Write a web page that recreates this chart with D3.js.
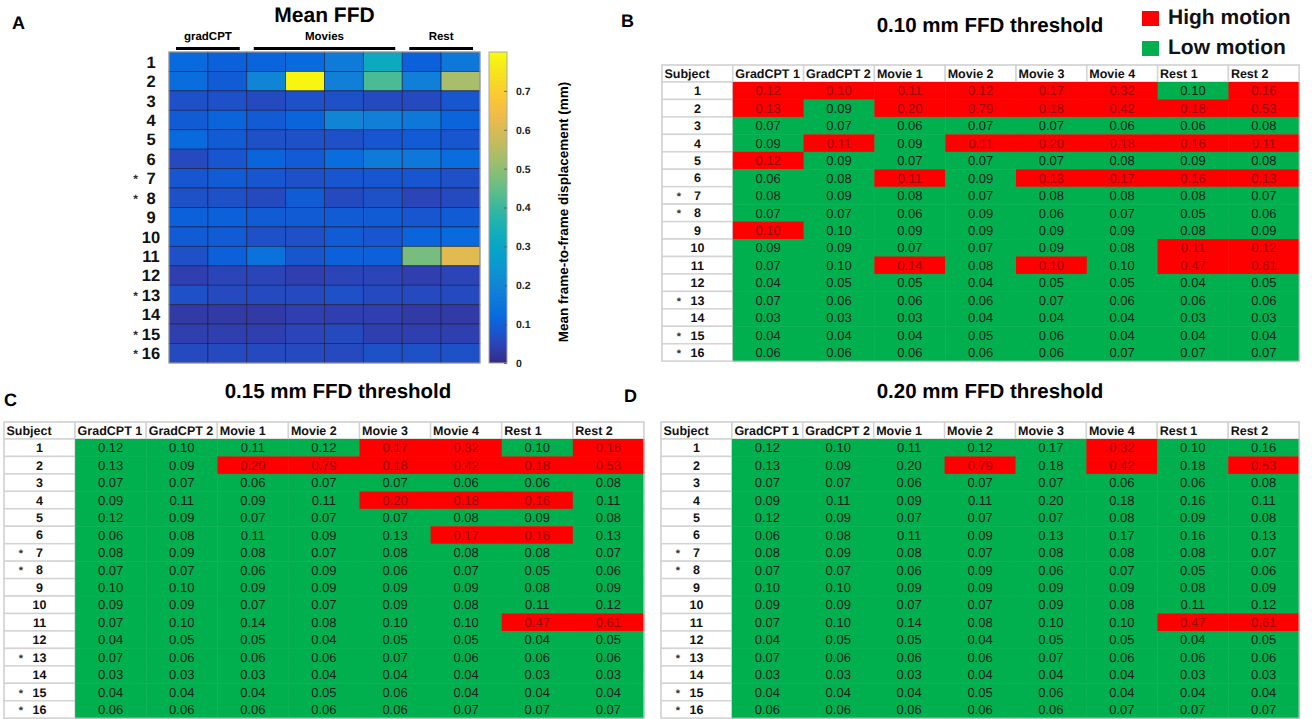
<!DOCTYPE html>
<html>
<head>
<meta charset="utf-8">
<script src="https://cdnjs.cloudflare.com/ajax/libs/d3/7.8.5/d3.min.js"></script>
<style>
  html, body { margin: 0; padding: 0; background: #fff; }
  svg { display: block; font-family: "Liberation Sans", Arial, Helvetica, sans-serif; }
  text { text-rendering: geometricPrecision; }
</style>
</head>
<body>
<svg id="chart" width="1312" height="719"></svg>
<script>
/**
 * @fileoverview Mean FFD heatmap and three motion threshold tables.
 */

var subjects = ['1', '2', '3', '4', '5', '6', '7', '8', '9', '10', '11', '12',
  '13', '14', '15', '16'];
var starredSubjects = ['7', '8', '13', '15', '16'];
var runs = ['GradCPT 1', 'GradCPT 2', 'Movie 1', 'Movie 2', 'Movie 3',
  'Movie 4', 'Rest 1', 'Rest 2'];
var groupNames = ['gradCPT', 'Movies', 'Rest'];
var groupFirstRun = [0, 2, 6];
var groupLastRun = [1, 5, 7];

// Mean FFD (mm), one row per subject, one column per run.
var meanFFD = [
  [0.12, 0.10, 0.11, 0.12, 0.17, 0.32, 0.10, 0.16],
  [0.13, 0.09, 0.20, 0.79, 0.18, 0.42, 0.18, 0.53],
  [0.07, 0.07, 0.06, 0.07, 0.07, 0.06, 0.06, 0.08],
  [0.09, 0.11, 0.09, 0.11, 0.20, 0.18, 0.16, 0.11],
  [0.12, 0.09, 0.07, 0.07, 0.07, 0.08, 0.09, 0.08],
  [0.06, 0.08, 0.11, 0.09, 0.13, 0.17, 0.16, 0.13],
  [0.08, 0.09, 0.08, 0.07, 0.08, 0.08, 0.08, 0.07],
  [0.07, 0.07, 0.06, 0.09, 0.06, 0.07, 0.05, 0.06],
  [0.10, 0.10, 0.09, 0.09, 0.09, 0.09, 0.08, 0.09],
  [0.09, 0.09, 0.07, 0.07, 0.09, 0.08, 0.11, 0.12],
  [0.07, 0.10, 0.14, 0.08, 0.10, 0.10, 0.47, 0.61],
  [0.04, 0.05, 0.05, 0.04, 0.05, 0.05, 0.04, 0.05],
  [0.07, 0.06, 0.06, 0.06, 0.07, 0.06, 0.06, 0.06],
  [0.03, 0.03, 0.03, 0.04, 0.04, 0.04, 0.03, 0.03],
  [0.04, 0.04, 0.04, 0.05, 0.06, 0.04, 0.04, 0.04],
  [0.06, 0.06, 0.06, 0.06, 0.06, 0.07, 0.07, 0.07]
];

var colorMax = 0.8;
var colorTicks = [0, 0.1, 0.2, 0.3, 0.4, 0.5, 0.6, 0.7];

// High motion flags ('1') per subject row, as marked in each table.
var highAt010 = ['11111101', '10111111', '00000000', '01011111', '10000000',
  '00101111', '00000000', '00000000', '10000000', '00000011', '00101011',
  '00000000', '00000000', '00000000', '00000000', '00000000'];
var highAt015 = ['00001101', '00111111', '00000000', '00001110', '00000000',
  '00000110', '00000000', '00000000', '00000000', '00000000', '00000011',
  '00000000', '00000000', '00000000', '00000000', '00000000'];
var highAt020 = ['00000100', '00010101', '00000000', '00000000', '00000000',
  '00000000', '00000000', '00000000', '00000000', '00000000', '00000011',
  '00000000', '00000000', '00000000', '00000000', '00000000'];

var legendLabels = ['High motion', 'Low motion'];

// MATLAB parula, sampled every 4th entry of the 64-entry map.
var PARULA_ = [
  [0.2081, 0.1663, 0.5292], [0.1959, 0.2645, 0.7279],
  [0.0117, 0.3875, 0.8820], [0.0498, 0.4586, 0.8641],
  [0.0793, 0.5200, 0.8312], [0.0343, 0.5966, 0.8199],
  [0.0228, 0.6535, 0.7768], [0.0843, 0.6928, 0.7062],
  [0.2178, 0.7250, 0.6193], [0.3953, 0.7459, 0.5244],
  [0.5709, 0.7485, 0.4494], [0.7184, 0.7411, 0.3905],
  [0.8507, 0.7299, 0.3360], [0.9739, 0.7314, 0.2666],
  [0.9880, 0.8066, 0.1794], [0.9589, 0.8949, 0.1132],
  [0.9763, 0.9831, 0.0538]
].map(function(c) { return d3.rgb(c[0] * 255, c[1] * 255, c[2] * 255); });

var RED = '#ff0000';
var GREEN = '#00b04f';
var FONT_BOLD = 'bold';

var svg = d3.select('#chart');
var color = d3.scaleSequential(d3.interpolateRgbBasis(PARULA_))
  .domain([0, colorMax]);

/**
 * Draws the mean FFD heatmap with its colorbar (panel A).
 */
function drawHeatmap() {
  var g = svg.append('g');
  var x = d3.scaleBand().domain(d3.range(runs.length)).range([169, 480]);
  var y = d3.scaleBand().domain(subjects).range([52, 363]);

  g.append('text')
    .attr('x', 12).attr('y', 29)
    .attr('font-size', 18).attr('font-weight', FONT_BOLD)
    .text('A');
  g.append('text')
    .attr('x', (x.range()[0] + x.range()[1]) / 2).attr('y', 22)
    .attr('text-anchor', 'middle')
    .attr('font-size', 21).attr('font-weight', FONT_BOLD)
    .text('Mean FFD');

  // run groups with bars
  groupNames.forEach(function(name, i) {
    var x0 = x(groupFirstRun[i]);
    var x1 = x(groupLastRun[i]) + x.bandwidth();
    g.append('text')
      .attr('x', (x0 + x1) / 2).attr('y', 40)
      .attr('text-anchor', 'middle')
      .attr('font-size', 11.5).attr('font-weight', FONT_BOLD)
      .text(name);
    g.append('line')
      .attr('x1', x0 + 7).attr('x2', x1 - 7)
      .attr('y1', 48.5).attr('y2', 48.5)
      .attr('stroke', '#000').attr('stroke-width', 3);
  });

  var cells = [];
  meanFFD.forEach(function(row, r) {
    row.forEach(function(v, c) {
      cells.push({subject: subjects[r], run: c, value: v});
    });
  });
  g.append('g').selectAll('rect')
    .data(cells)
    .join('rect')
    .attr('x', function(d) { return x(d.run); })
    .attr('y', function(d) { return y(d.subject); })
    .attr('width', x.bandwidth())
    .attr('height', y.bandwidth())
    .attr('fill', function(d) { return color(d.value); })
    .attr('stroke', '#15153a')
    .attr('stroke-opacity', 0.7)
    .attr('stroke-width', 0.8);
  g.append('rect')
    .attr('x', x.range()[0]).attr('y', y.range()[0])
    .attr('width', x.range()[1] - x.range()[0])
    .attr('height', y.range()[1] - y.range()[0])
    .attr('fill', 'none').attr('stroke', '#b0b0b0').attr('stroke-width', 1);

  // subject labels
  g.append('g').selectAll('text')
    .data(subjects)
    .join('text')
    .attr('x', 151)
    .attr('y', function(d) { return y(d) + y.bandwidth() / 2; })
    .attr('dy', '0.36em')
    .attr('text-anchor', 'middle')
    .attr('font-size', 16.5).attr('font-weight', FONT_BOLD)
    .attr('fill', '#111')
    .text(function(d) { return d; });
  g.append('g').selectAll('text')
    .data(starredSubjects)
    .join('text')
    .attr('x', 135.5)
    .attr('y', function(d) { return y(d) + y.bandwidth() / 2 + 5; })
    .attr('text-anchor', 'middle')
    .attr('font-size', 12).attr('font-weight', FONT_BOLD)
    .attr('fill', '#333')
    .text('*');

  // colorbar
  var cb = {x: 489, w: 18, top: 52, bottom: 363};
  var cScale = d3.scaleLinear().domain([0, colorMax])
    .range([cb.bottom, cb.top]);
  var grad = svg.append('defs').append('linearGradient')
    .attr('id', 'parula')
    .attr('x1', 0).attr('y1', 1).attr('x2', 0).attr('y2', 0);
  grad.selectAll('stop')
    .data(d3.range(0, 1.0001, 0.05))
    .join('stop')
    .attr('offset', function(t) { return t; })
    .attr('stop-color', function(t) { return color(t * colorMax); });
  g.append('rect')
    .attr('x', cb.x).attr('y', cb.top)
    .attr('width', cb.w).attr('height', cb.bottom - cb.top)
    .attr('fill', 'url(#parula)')
    .attr('stroke', '#a8a8a8').attr('stroke-width', 1);
  var axis = g.append('g')
    .attr('transform', 'translate(' + (cb.x + cb.w) + ',0)')
    .call(d3.axisRight(cScale)
      .tickValues(colorTicks)
      .tickSize(-3)
      .tickPadding(9)
      .tickFormat(function(d) { return d === 0 ? '0' : d3.format('.1f')(d); }));
  axis.select('.domain').remove();
  axis.selectAll('.tick line').attr('stroke', '#555').attr('stroke-width', 0.8);
  axis.selectAll('.tick text')
    .attr('font-family', null)
    .attr('font-size', 10.5).attr('font-weight', FONT_BOLD)
    .attr('fill', '#222');
  g.append('text')
    .attr('transform', 'translate(563,212) rotate(-90)')
    .attr('text-anchor', 'middle').attr('dy', '0.35em')
    .attr('font-size', 13.5).attr('font-weight', FONT_BOLD)
    .text('Mean frame-to-frame displacement (mm)');
}

/**
 * Draws one motion threshold table.
 * @param {!Object} params
 */
function drawTable(params) {
  var g = svg.append('g');
  var headerH = 17;
  var rowH = 17.45;
  var columns = ['Subject'].concat(runs);
  var x = d3.scaleBand().domain(columns)
    .range([params.left, params.left + columns.length * params.colW]);
  var y = d3.scaleBand().domain(subjects)
    .range([params.top + headerH, params.top + headerH + subjects.length * rowH]);
  var tableRight = x.range()[1];
  var tableBottom = y.range()[1];

  g.append('text')
    .attr('x', params.letterX).attr('y', params.letterY)
    .attr('font-size', 18).attr('font-weight', FONT_BOLD)
    .text(params.letter);
  g.append('text')
    .attr('x', params.titleX).attr('y', params.titleY)
    .attr('text-anchor', 'middle')
    .attr('font-size', 20.5).attr('font-weight', FONT_BOLD)
    .text(params.threshold + ' mm FFD threshold');

  // header row
  g.append('g').selectAll('rect')
    .data(columns)
    .join('rect')
    .attr('x', function(d) { return x(d); })
    .attr('y', params.top)
    .attr('width', x.bandwidth()).attr('height', headerH)
    .attr('fill', '#fff').attr('stroke', '#d4d4d4').attr('stroke-width', 1.5);
  g.append('g').selectAll('text')
    .data(columns)
    .join('text')
    .attr('x', function(d) { return x(d) + 2.5; })
    .attr('y', params.top + headerH / 2)
    .attr('dy', '0.36em')
    .attr('font-size', 12.5).attr('font-weight', FONT_BOLD)
    .attr('fill', '#111')
    .text(function(d) { return d; });

  // subject column
  g.append('g').selectAll('rect')
    .data(subjects)
    .join('rect')
    .attr('x', x('Subject'))
    .attr('y', function(d) { return y(d); })
    .attr('width', x.bandwidth()).attr('height', y.bandwidth())
    .attr('fill', '#fff').attr('stroke', '#d4d4d4').attr('stroke-width', 1.5);
  g.append('g').selectAll('text')
    .data(subjects)
    .join('text')
    .attr('x', x('Subject') + x.bandwidth() / 2)
    .attr('y', function(d) { return y(d) + y.bandwidth() / 2; })
    .attr('dy', '0.36em')
    .attr('text-anchor', 'middle')
    .attr('font-size', 12.5).attr('font-weight', FONT_BOLD)
    .attr('fill', '#111')
    .text(function(d) { return d; });
  g.append('g').selectAll('text')
    .data(starredSubjects)
    .join('text')
    .attr('x', x('Subject') + 17)
    .attr('y', function(d) { return y(d) + y.bandwidth() / 2 + 4.5; })
    .attr('text-anchor', 'middle')
    .attr('font-size', 11).attr('font-weight', FONT_BOLD)
    .attr('fill', '#333')
    .text('*');

  // value cells
  var cells = [];
  meanFFD.forEach(function(row, r) {
    row.forEach(function(v, c) {
      cells.push({
        subject: subjects[r],
        run: runs[c],
        value: v,
        high: params.high[r].charAt(c) === '1'
      });
    });
  });
  g.append('g').selectAll('rect')
    .data(cells)
    .join('rect')
    .attr('x', function(d) { return x(d.run); })
    .attr('y', function(d) { return y(d.subject); })
    .attr('width', x.bandwidth() + 0.5)
    .attr('height', y.bandwidth() + 0.5)
    .attr('fill', function(d) { return d.high ? RED : GREEN; });
  g.append('g').selectAll('text')
    .data(cells)
    .join('text')
    .attr('x', function(d) { return x(d.run) + x.bandwidth() / 2; })
    .attr('y', function(d) { return y(d.subject) + y.bandwidth() / 2; })
    .attr('dy', '0.36em')
    .attr('text-anchor', 'middle')
    .attr('font-size', 13)
    .attr('fill', function(d) { return d.high ? '#9c0a0a' : '#1a221a'; })
    .text(function(d) { return d3.format('.2f')(d.value); });

  g.append('rect')
    .attr('x', params.left).attr('y', params.top)
    .attr('width', tableRight - params.left)
    .attr('height', tableBottom - params.top)
    .attr('fill', 'none').attr('stroke', '#d4d4d4').attr('stroke-width', 1);
}

/**
 * Draws the high / low motion legend.
 */
function drawLegend() {
  var g = svg.append('g');
  var swatches = [RED, GREEN];
  legendLabels.forEach(function(label, i) {
    var y0 = 11 + i * 30;
    g.append('rect')
      .attr('x', 1142).attr('y', y0)
      .attr('width', 17).attr('height', 15)
      .attr('fill', swatches[i]);
    g.append('text')
      .attr('x', 1168).attr('y', y0 + 13)
      .attr('font-size', 21).attr('font-weight', FONT_BOLD)
      .attr('fill', '#111')
      .text(label);
  });
}

drawHeatmap();
drawTable({letter: 'B', letterX: 621, letterY: 27, threshold: '0.10',
  titleX: 990, titleY: 32, left: 662, top: 65, colW: 70.8, high: highAt010});
drawTable({letter: 'C', letterX: 4, letterY: 406, threshold: '0.15',
  titleX: 338, titleY: 398, left: 4, top: 422, colW: 71.1, high: highAt015});
drawTable({letter: 'D', letterX: 624, letterY: 402, threshold: '0.20',
  titleX: 990, titleY: 398, left: 661, top: 422, colW: 70.9, high: highAt020});
drawLegend();
</script>
</body>
</html>
